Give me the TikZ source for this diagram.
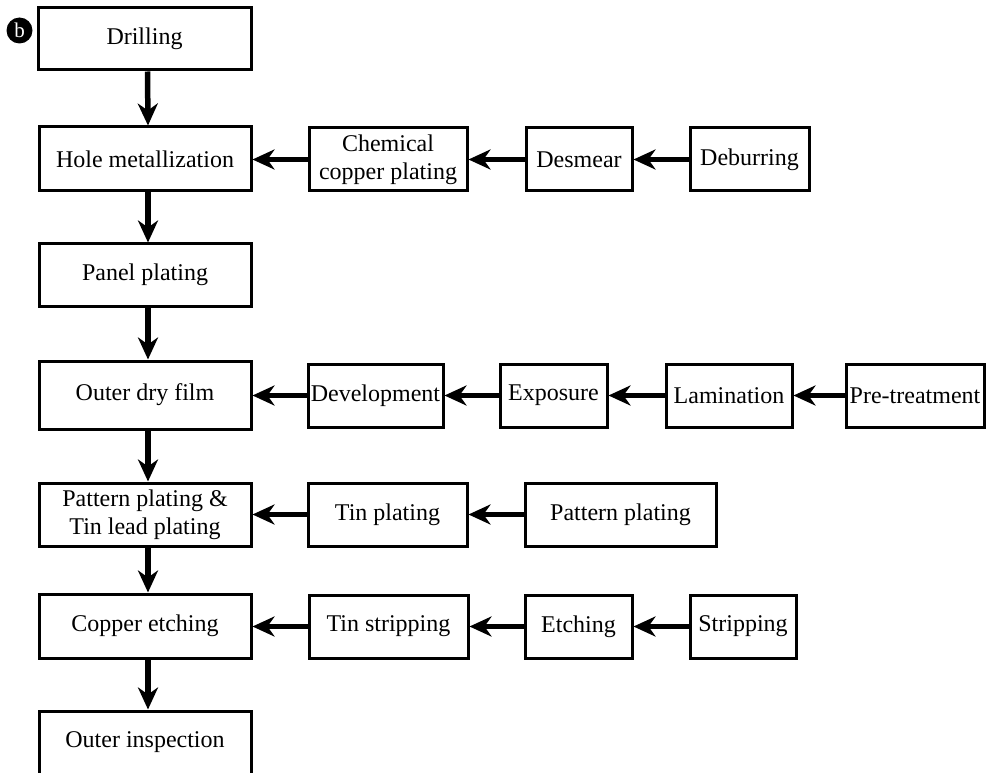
\documentclass[tikz,border=0pt]{standalone}
\usepackage{fontspec}
\setmainfont{Liberation Serif}
\usetikzlibrary{arrows.meta}
\begin{document}
\begin{tikzpicture}[x=1pt,y=-1pt,
  box/.style={draw, line width=3pt, inner sep=0pt, align=center,
    font=\fontsize{24}{28}\selectfont},
  flow/.style={line width=5.5pt, -{Stealth[length=22pt,width=20pt,inset=7pt]}}]
\useasboundingbox[fill=white] (0,0) rectangle (989,773);
% marker
\node[circle, fill=black, minimum size=26pt, inner sep=0pt, text=white,
  font=\fontsize{21}{21}\selectfont] (mark) at (19.5,30.5) {b};
% left column
\node[box, minimum width=213, minimum height=62] (drill) at (144.5,39) {Drilling};
\node[box, minimum width=212, minimum height=64] (hole) at (145,159) {Hole metallization};
\node[box, minimum width=212, minimum height=62] (panel) at (145,275) {Panel plating};
\node[box, minimum width=212, minimum height=68] (dry) at (145,395) {Outer dry film};
\node[box, minimum width=212, minimum height=63] (patt) at (145,514.5) {Pattern plating \&\\Tin lead plating};
\node[box, minimum width=212, minimum height=64] (copper) at (145,626) {Copper etching};
\node[box, minimum width=212, minimum height=63] (outer) at (145,742.5) {Outer inspection};
% row 1
\node[box, minimum width=158, minimum height=63] (chem) at (388,159.5) {Chemical\\copper plating};
\node[box, minimum width=106, minimum height=63] (desmear) at (579,159.5) {Desmear};
\node[box, minimum width=119, minimum height=63] (deburr) at (749.5,159.5) {Deburring};
% row 2
\node[box, minimum width=135, minimum height=63] (dev) at (375.5,395.5) {Development};
\node[box, minimum width=107, minimum height=63] (exp) at (553.5,395.5) {Exposure};
\node[box, minimum width=126, minimum height=63] (lam) at (729,395.5) {Lamination};
\node[box, minimum width=138, minimum height=63] (pre) at (915,395.5) {Pre-treatment};
% row 3
\node[box, minimum width=159, minimum height=63] (tinp) at (387.5,514.5) {Tin plating};
\node[box, minimum width=191, minimum height=63] (pp) at (620.5,514.5) {Pattern plating};
% row 4
\node[box, minimum width=159, minimum height=63] (tins) at (388.5,626.5) {Tin stripping};
\node[box, minimum width=107, minimum height=63] (etch) at (578.5,626.5) {Etching};
\node[box, minimum width=106, minimum height=63] (strip) at (743,626.5) {Stripping};
% vertical arrows
\foreach \a/\b in {drill/hole, hole/panel, panel/dry, dry/patt, patt/copper, copper/outer}
  \draw[flow] ([xshift=3pt]\a.south) -- ([xshift=3pt]\b.north);
% horizontal arrows
\foreach \a/\b in {chem/hole, desmear/chem, deburr/desmear,
  dev/dry, exp/dev, lam/exp, pre/lam,
  tinp/patt, pp/tinp,
  tins/copper, etch/tins, strip/etch}
  \draw[flow] (\a.west) -- (\a.west -| \b.east);
\end{tikzpicture}
\end{document}
